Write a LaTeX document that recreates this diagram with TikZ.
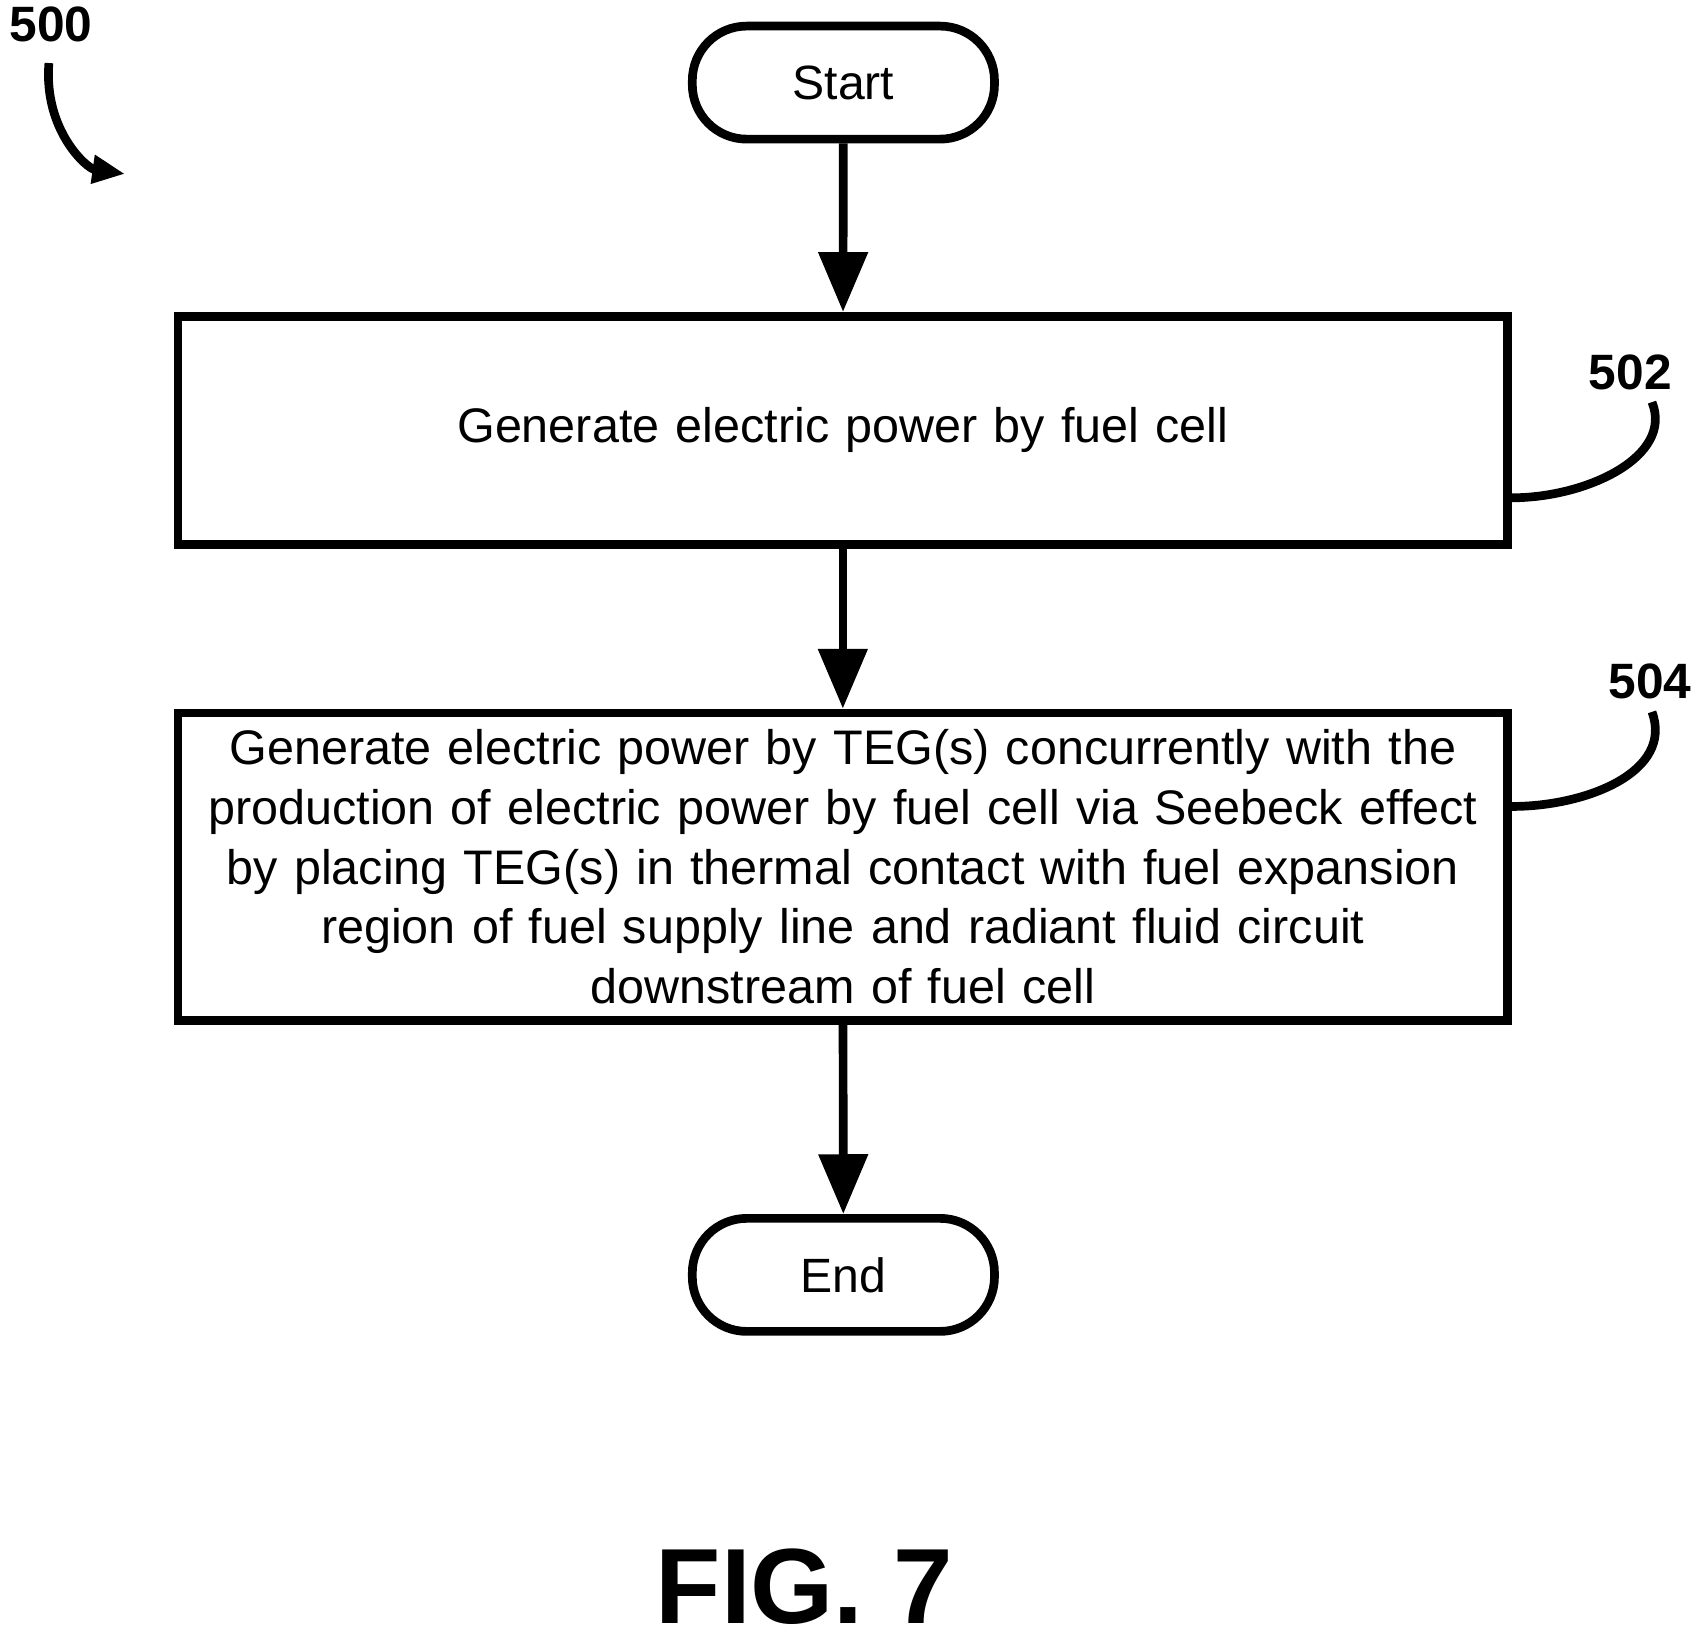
\documentclass[tikz,border=0pt]{standalone}
\usepackage{fontspec}
\setmainfont{Liberation Sans}
\usetikzlibrary{arrows.meta, positioning}

\begin{document}
\begin{tikzpicture}[>={Triangle[length=0.55cm,width=0.44cm]},line width=0.08cm,
  term/.style={draw,rounded corners=0.5cm,minimum width=2.78cm,minimum height=1.04cm,font=\fontsize{12.6}{14}\selectfont},
  box/.style={draw,minimum width=12.07cm,font=\fontsize{12.7}{15.6}\selectfont,align=center,text width=12cm},
  ref/.style={font=\bfseries\fontsize{13}{14}\selectfont}]
    \useasboundingbox (0,0) rectangle (15.66,-15.06);

    \node[term] (start) at (7.76,-0.76) {Start};
    \node[box,minimum height=2.1cm] (gen) at (7.755,-3.96) {Generate electric power by fuel cell};
    \node[box,minimum height=2.83cm] (teg) at (7.755,-7.975) {Generate electric power by TEG(s) concurrently with the\\production of electric power by fuel cell via Seebeck effect\\by placing TEG(s) in thermal contact with fuel expansion\\region of fuel supply line and radiant fluid circuit\\downstream of fuel cell};
    \node[term] (end) at (7.76,-11.73) {End};

    \draw[->] (start) -- (gen);
    \draw[->] (gen) -- (teg);
    \draw[->] (teg) -- (end);

    % reference numerals
    \node[ref] (n500) at (0.47,-0.22) {500};
    \node[ref] (n502) at (15.0,-3.43) {502};
    \node[ref] (n504) at (15.18,-6.27) {504};
    \coordinate (a500) at (1.15,-1.6);
    \draw[->,>={Triangle[length=0.3cm,width=0.25cm]}] (0.45,-0.58) .. controls (0.4,-1.2) and (0.8,-1.55) .. (a500);
    \draw (gen.east |- 0,-4.58) .. controls (14.6,-4.58) and (15.4,-4.2) .. (15.2,-3.7);
    \draw (teg.east |- 0,-7.42) .. controls (14.6,-7.42) and (15.4,-7.1) .. (15.2,-6.55);

    \node[font=\bfseries\fontsize{28}{30}\selectfont] (fig) at (7.4,-14.6) {FIG. 7};
\end{tikzpicture}
\end{document}
